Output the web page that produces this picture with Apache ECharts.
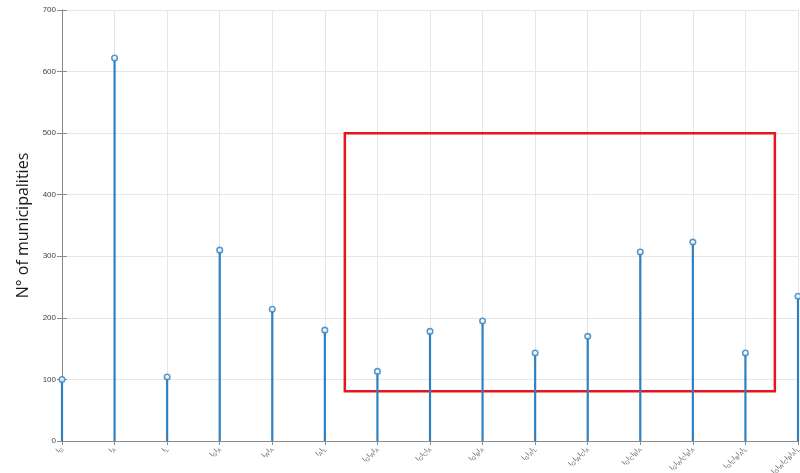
<!DOCTYPE html>
<html>
<head>
<meta charset="utf-8">
<script src="https://cdn.jsdelivr.net/npm/echarts@6/dist/echarts.min.js"></script>
<style>
  html, body { margin: 0; padding: 0; background: #fff; }
  #chart { width: 800px; height: 473px; }
</style>
</head>
<body>
<div id="chart"></div>
<script>
// Indicator combinations (each item: list of subscripts of "I")
const combos = [
  ['G'], ['A'], ['L'], ['G', 'A'], ['W', 'A'], ['A', 'L'],
  ['G', 'W', 'A'], ['G', 'C', 'A'], ['G', 'B', 'A'], ['G', 'A', 'L'],
  ['G', 'W', 'C', 'A'], ['G', 'C', 'B', 'A'], ['G', 'W', 'C', 'B', 'A'],
  ['G', 'C', 'B', 'A', 'L'], ['G', 'W', 'C', 'B', 'A', 'L']
];
// Number of municipalities per combination
const municipalities = [100, 622, 104, 310, 214, 180, 113, 178, 195, 143, 170, 307, 323, 143, 235];
// Y axis ticks
const yTicks = [0, 100, 200, 300, 400, 500, 600, 700];
// Highlighted region (x in category index units, y in municipalities)
const boxX = [5.38, 13.56];
const boxY = [81, 500];

const chart = echarts.init(document.getElementById('chart'));
const last = combos.length - 1;

const stemColor = '#2f80c0';
const labelFmt = v => {
  const c = combos[Math.round(v)];
  if (!c || Math.abs(v - Math.round(v)) > 1e-6) return '';
  return c.map(s => '{m|I}{s|' + s + '}').join('');
};

chart.setOption({
  animation: false,
  grid: { left: 62, right: 2, top: 10, bottom: 32, containLabel: false, outerBoundsMode: 'none' },
  xAxis: [{
    type: 'value', min: 0, max: last, interval: 1,
    axisLine: { show: true, lineStyle: { color: '#8a8a8a', width: 1 } },
    axisTick: { show: true, inside: true, length: 4, lineStyle: { color: '#8a8a8a' } },
    splitLine: { show: true, lineStyle: { color: '#e6e6e6', width: 1 } },
    axisLabel: {
      rotate: 45, margin: 7, color: '#666', formatter: labelFmt,
      showMinLabel: true, showMaxLabel: true,
      rich: {
        m: { fontSize: 7, fontFamily: 'Liberation Sans', color: '#666', lineHeight: 9, verticalAlign: 'top' },
        s: { fontSize: 5.5, fontFamily: 'Liberation Sans', color: '#666', lineHeight: 9, verticalAlign: 'bottom', padding: [3, 0, 0, 0] }
      }
    }
  }, {
    type: 'value', position: 'top', min: 0, max: last, interval: 1,
    axisLine: { show: true, lineStyle: { color: '#8a8a8a', width: 1 } },
    axisTick: { show: true, inside: true, length: 4, lineStyle: { color: '#8a8a8a' } },
    axisLabel: { show: false }, splitLine: { show: false }
  }],
  yAxis: [{
    type: 'value', min: yTicks[0], max: yTicks[yTicks.length - 1], interval: 100,
    name: 'N° of municipalities', nameLocation: 'middle', nameGap: 28,
    nameTextStyle: { fontSize: 16, color: '#1a1a1a', fontFamily: 'Open Sans' },
    axisLine: { show: true, lineStyle: { color: '#8a8a8a', width: 1 } },
    axisTick: { show: true, inside: true, length: 5, lineStyle: { color: '#8a8a8a' } },
    splitLine: { show: true, lineStyle: { color: '#e6e6e6', width: 1 } },
    axisLabel: { fontSize: 8, color: '#444', margin: 6, fontFamily: 'Liberation Sans' }
  }, {
    type: 'value', position: 'right', min: yTicks[0], max: yTicks[yTicks.length - 1], interval: 100,
    axisLine: { show: true, lineStyle: { color: '#8a8a8a', width: 1 } },
    axisTick: { show: true, inside: true, length: 5, lineStyle: { color: '#8a8a8a' } },
    axisLabel: { show: false }, splitLine: { show: false }
  }],
  series: [{
    type: 'bar',
    data: municipalities.map((v, i) => [i, v]),
    barWidth: 2.2,
    itemStyle: { color: stemColor },
    clip: false,
    markArea: {
      silent: true,
      itemStyle: { color: 'rgba(0,0,0,0)', borderColor: '#e8151d', borderWidth: 2.5 },
      data: [[{ xAxis: boxX[0], yAxis: boxY[1] }, { xAxis: boxX[1], yAxis: boxY[0] }]]
    }
  }, {
    type: 'scatter',
    data: municipalities.map((v, i) => [i, v]),
    symbol: 'circle', symbolSize: 5.5,
    clip: false,
    itemStyle: { color: '#ffffff', borderColor: stemColor, borderWidth: 1.6 },
    z: 5
  }]
});
</script>
</body>
</html>
